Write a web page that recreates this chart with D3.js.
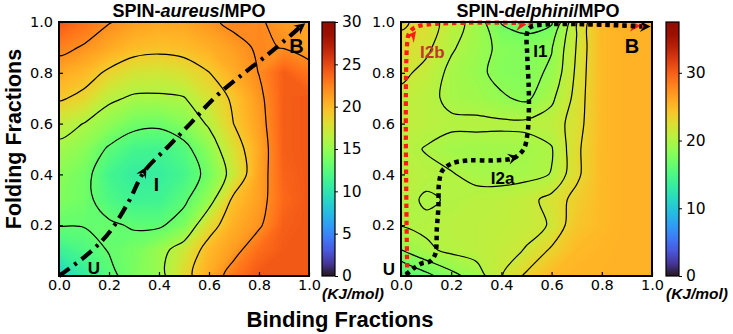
<!DOCTYPE html>
<html>
<head>
<meta charset="utf-8">
<script src="https://cdn.jsdelivr.net/npm/d3@7"></script>
<style>
  body { margin: 0; background: #fff; }
</style>
</head>
<body>
<svg id="chart" width="733" height="334"></svg>
<script>
// Free energy grids, columns = binding fraction 0.0..1.0, rows = folding fraction 1.0 (top) .. 0.0 (bottom)
const aureusRows = [
    [24.3, 23.3, 22.1, 21.3, 20.9, 21.0, 21.6, 22.5, 22.2, 21.4, 20.8],
    [22.6, 21.8, 20.8, 19.9, 19.6, 19.8, 20.5, 21.3, 22.3, 21.9, 21.0],
    [20.8, 20.0, 18.6, 17.5, 17.3, 17.8, 18.95, 20.6, 22.05, 24.0, 23.0],
    [19.3, 18.4, 16.4, 15.7, 15.7, 15.9, 17.6, 19.4, 21.5, 24.0, 24.3],
    [16.8, 15.95, 14.8, 13.6, 13.4, 14.4, 16.3, 19.05, 21.2, 24.0, 24.3],
    [15.5, 14.6, 12.7, 11.6, 11.4, 12.3, 14.7, 17.8, 20.8, 24.0, 24.3],
    [14.6, 13.7, 11.5, 10.6, 10.7, 11.6, 13.7, 17.0, 21.0, 23.8, 24.3],
    [14.2, 13.6, 12.0, 11.2, 11.3, 12.6, 15.0, 19.6, 21.2, 23.6, 24.3],
    [13.1, 13.1, 13.3, 12.8, 12.7, 14.0, 18.0, 20.5, 21.7, 24.0, 24.3],
    [11.0, 12.0, 13.1, 13.8, 15.2, 17.2, 20.0, 21.4, 23.4, 24.2, 24.3],
    [8.5, 10.5, 12.4, 14.0, 15.2, 18.2, 20.6, 23.0, 24.3, 24.3, 24.3]
];
const delphiniRows = [
    [23.3, 22.4, 20.7, 19.4, 16.9, 16.3, 16.8, 21.4, 25.0, 25.5, 25.5],
    [22.4, 21.9, 20.2, 19.2, 18.1, 17.8, 18.4, 21.6, 25.0, 25.5, 25.5],
    [21.9, 21.0, 19.6, 18.9, 18.0, 17.9, 18.8, 21.8, 25.0, 25.5, 25.5],
    [21.0, 20.5, 19.6, 19.3, 18.7, 18.2, 19.7, 22.0, 25.0, 25.5, 25.5],
    [20.8, 20.6, 20.3, 20.35, 20.3, 20.35, 20.7, 22.2, 25.0, 25.5, 25.5],
    [20.5, 19.9, 19.4, 19.3, 19.3, 19.4, 19.9, 22.6, 25.0, 25.5, 25.5],
    [20.6, 20.4, 20.1, 19.6, 19.5, 19.6, 20.05, 22.6, 25.0, 25.5, 25.5],
    [20.5, 19.8, 20.15, 20.5, 20.6, 21.0, 22.0, 23.6, 25.0, 25.5, 25.5],
    [20.05, 20.3, 20.5, 20.6, 20.8, 21.1, 21.6, 24.2, 25.0, 25.5, 25.5],
    [18.4, 19.7, 20.3, 20.6, 21.0, 21.6, 23.3, 25.0, 25.3, 25.5, 25.5],
    [15.0, 16.5, 18.0, 19.2, 21.4, 23.3, 25.0, 25.3, 25.4, 25.5, 25.5]
];

// Contour line levels (kJ/mol)
const aureusLevels = [13, 16, 19, 22];
const delphiniLevels = [17, 18.5, 20, 21.5, 23];

// Colour bar ranges and ticks
const aureusMax = 30;
const delphiniMax = 37.5;
const aureusBarTicks = [0, 5, 10, 15, 20, 25, 30];
const delphiniBarTicks = [0, 10, 20, 30];

// Axis ticks
const xTicks = [0.0, 0.2, 0.4, 0.6, 0.8, 1.0];
const yTicks = [0.2, 0.4, 0.6, 0.8, 1.0];

// Pathways (binding, folding)
const aureusPath = [[0.0, 0.0], [0.12, 0.09], [0.2, 0.17], [0.28, 0.295], [0.34, 0.41], [0.44, 0.513],
    [0.53, 0.605], [0.62, 0.70], [0.72, 0.783], [0.83, 0.868], [0.93, 0.95], [0.975, 0.99]];
const delphiniBlackPath = [[0.02, 0.005], [0.05, 0.03], [0.083, 0.05], [0.116, 0.058], [0.136, 0.085],
    [0.143, 0.19], [0.149, 0.27], [0.152, 0.37], [0.165, 0.415], [0.2, 0.442], [0.265, 0.455],
    [0.37, 0.455], [0.45, 0.465], [0.489, 0.50], [0.503, 0.554], [0.509, 0.633], [0.509, 0.738],
    [0.503, 0.869], [0.503, 0.96], [0.52, 0.982], [0.96, 0.982]];
const delphiniRedPath = [[0.025, 0.0], [0.025, 0.92], [0.035, 0.96], [0.07, 0.984], [0.97, 0.984]];

// Arrow heads: [from, tip]
const aureusArrows = [[[0.31, 0.36], [0.35, 0.43]], [[0.94, 0.96], [0.985, 0.995]]];
const delphiniBlackArrows = [[[0.42, 0.458], [0.47, 0.47]], [[0.95, 0.982], [0.995, 0.982]]];
const delphiniRedArrows = [[[0.025, 0.92], [0.06, 0.965]], [[0.45, 0.986], [0.50, 0.99]], [[0.91, 0.984], [0.955, 0.984]]];

// State labels
const aureusLabels = [["U", 0.14, 0.03, 17, "#000"], ["I", 0.39, 0.36, 19, "#000"], ["B", 0.95, 0.905, 20, "#000"]];
const delphiniLabels = [["U", -0.048, 0.024, 17, "#000"], ["I2b", 0.125, 0.88, 17, "#c0392b"],
    ["I1", 0.555, 0.885, 17, "#000"], ["I2a", 0.405, 0.385, 17, "#000"], ["B", 0.92, 0.905, 20, "#000"]];

const svg = d3.select("#chart");
const n = 11;
const sansBold = "'Liberation Sans', Arial, sans-serif";

const panels = [
    { rows: aureusRows, levels: aureusLevels, vmax: aureusMax, barTicks: aureusBarTicks,
      path: aureusPath, arrows: aureusArrows, labels: aureusLabels, name: "aureus", titleX: 189,
      x0: 59, x1: 309, y0: 22, y1: 276, barX: 322 },
    { rows: delphiniRows, levels: delphiniLevels, vmax: delphiniMax, barTicks: delphiniBarTicks,
      path: null, arrows: delphiniBlackArrows, labels: delphiniLabels, name: "delphini", titleX: 538,
      x0: 401, x1: 652, y0: 22, y1: 276, barX: 666 }
];

const defs = svg.append("defs");

function arrowHead(g, pair, x, y, fill) {
    const [a, b] = pair;
    const ang = Math.atan2(y(b[1]) - y(a[1]), x(b[0]) - x(a[0])) * 180 / Math.PI;
    g.append("path")
        .attr("d", "M0,0 L-11,-5.5 L-7,0 L-11,5.5 Z")
        .attr("transform", "translate(" + x(b[0]) + "," + y(b[1]) + ") rotate(" + ang + ")")
        .attr("fill", fill);
}

panels.forEach(function (p, idx) {
    const x = d3.scaleLinear().domain([0, 1]).range([p.x0, p.x1]);
    const y = d3.scaleLinear().domain([0, 1]).range([p.y1, p.y0]);
    const values = p.rows.slice().reverse().flat();
    const color = v => d3.interpolateTurbo(Math.max(0, Math.min(1, v / p.vmax)));

    defs.append("clipPath").attr("id", "clip" + idx)
        .append("rect").attr("x", p.x0).attr("y", p.y0)
        .attr("width", p.x1 - p.x0).attr("height", p.y1 - p.y0);

    // grid coordinate -> pixel
    const gx = c => x((c - 0.5) / (n - 1));
    const gy = c => y((c - 0.5) / (n - 1));
    const geo = d3.geoPath(d3.geoTransform({
        point: function (px, py) { this.stream.point(gx(px), gy(py)); }
    }));

    const g = svg.append("g").attr("clip-path", "url(#clip" + idx + ")");
    const [lo, hi] = d3.extent(values);
    g.append("rect").attr("x", p.x0).attr("y", p.y0)
        .attr("width", p.x1 - p.x0).attr("height", p.y1 - p.y0).attr("fill", color(lo));

    const steps = d3.range(Math.floor(lo * 10) / 10, hi, 0.1);
    g.selectAll("path.band")
        .data(d3.contours().size([n, n]).thresholds(steps)(values))
        .join("path")
        .attr("class", "band")
        .attr("d", geo)
        .attr("fill", d => color(d.value + 0.05))
        .attr("stroke", d => color(d.value + 0.05))
        .attr("stroke-width", 0.6);

    // contour lines
    const ringLine = d3.line().curve(d3.curveCatmullRomClosed.alpha(0.5));
    d3.contours().size([n, n]).thresholds(p.levels)(values).forEach(function (c) {
        c.coordinates.forEach(function (poly) {
            poly.forEach(function (ring) {
                g.append("path")
                    .attr("d", ringLine(ring.slice(0, -1).map(pt => [gx(pt[0]), gy(pt[1])])))
                    .attr("fill", "none")
                    .attr("stroke", "#000")
                    .attr("stroke-width", 1.2);
            });
        });
    });

    // pathways
    const pathLine = d3.line().x(d => x(d[0])).y(d => y(d[1])).curve(d3.curveCatmullRom.alpha(0.5));
    const pg = svg.append("g");
    if (idx === 0) {
        pg.append("path").attr("d", pathLine(p.path)).attr("fill", "none")
            .attr("stroke", "#000").attr("stroke-width", 4.2)
            .attr("stroke-dasharray", "13,6,3,6");
        p.arrows.forEach(a => arrowHead(pg, a, x, y, "#000"));
    } else {
        pg.append("path").attr("d", pathLine(delphiniRedPath)).attr("fill", "none")
            .attr("stroke", "#ff1a1a").attr("stroke-width", 4.2)
            .attr("stroke-dasharray", "4.5,4");
        delphiniRedArrows.forEach(a => arrowHead(pg, a, x, y, "#ff1a1a"));
        pg.append("path").attr("d", pathLine(delphiniBlackPath)).attr("fill", "none")
            .attr("stroke", "#000").attr("stroke-width", 4.5)
            .attr("stroke-dasharray", "4.5,4");
        p.arrows.forEach(a => arrowHead(pg, a, x, y, "#000"));
    }

    // state labels
    p.labels.forEach(function (l) {
        svg.append("text").attr("x", x(l[1])).attr("y", y(l[2]))
            .attr("text-anchor", "middle").attr("dominant-baseline", "central")
            .attr("font-family", sansBold).attr("font-weight", "bold")
            .attr("font-size", l[3]).attr("fill", l[4]).text(l[0]);
    });

    // frame
    svg.append("rect").attr("x", p.x0).attr("y", p.y0)
        .attr("width", p.x1 - p.x0).attr("height", p.y1 - p.y0)
        .attr("fill", "none").attr("stroke", "#000").attr("stroke-width", 2);

    // axes
    const ax = svg.append("g").attr("transform", "translate(0," + p.y1 + ")")
        .call(d3.axisBottom(x).tickValues(xTicks).tickFormat(d3.format(".1f")).tickSize(-4).tickPadding(4));
    const ay = svg.append("g").attr("transform", "translate(" + p.x0 + ",0)")
        .call(d3.axisLeft(y).tickValues(yTicks).tickFormat(d3.format(".1f")).tickSize(-4).tickPadding(6));
    [ax, ay].forEach(function (a) {
        a.select(".domain").remove();
        a.attr("font-family", "'DejaVu Sans', sans-serif").attr("font-size", 14.5);
        a.selectAll("text").attr("fill", "#000");
        a.selectAll("line").attr("stroke", "#000").attr("stroke-width", 1.2);
    });

    // colour bar
    const grad = defs.append("linearGradient").attr("id", "grad" + idx)
        .attr("x1", 0).attr("y1", 1).attr("x2", 0).attr("y2", 0);
    d3.range(0, 1.0001, 0.05).forEach(t => grad.append("stop")
        .attr("offset", t).attr("stop-color", d3.interpolateTurbo(t)));
    svg.append("rect").attr("x", p.barX).attr("y", p.y0).attr("width", 13).attr("height", p.y1 - p.y0)
        .attr("fill", "url(#grad" + idx + ")").attr("stroke", "#000").attr("stroke-width", 1.2);
    const cScale = d3.scaleLinear().domain([0, p.vmax]).range([p.y1, p.y0]);
    const cb = svg.append("g").attr("transform", "translate(" + (p.barX + 13) + ",0)")
        .call(d3.axisRight(cScale).tickValues(p.barTicks).tickSize(3).tickPadding(4));
    cb.select(".domain").remove();
    cb.attr("font-family", "'DejaVu Sans', sans-serif").attr("font-size", 15.5);
    cb.selectAll("text").attr("fill", "#000");
    cb.selectAll("line").attr("stroke", "#000");

    svg.append("text").attr("x", p.barX).attr("y", 299)
        .attr("font-family", sansBold).attr("font-weight", "bold").attr("font-style", "italic")
        .attr("font-size", 15.5).text("(KJ/mol)");

    // title
    const t = svg.append("text").attr("x", p.titleX).attr("y", 17).attr("text-anchor", "middle")
        .attr("font-family", sansBold).attr("font-weight", "bold").attr("font-size", 18);
    t.append("tspan").text("SPIN-");
    t.append("tspan").attr("font-style", "italic").text(p.name);
    t.append("tspan").text("/MPO");
});

svg.append("text").attr("x", 340).attr("y", 327).attr("text-anchor", "middle")
    .attr("font-family", sansBold).attr("font-weight", "bold").attr("font-size", 22)
    .text("Binding Fractions");
svg.append("text").attr("transform", "translate(21,139) rotate(-90)").attr("text-anchor", "middle")
    .attr("font-family", sansBold).attr("font-weight", "bold").attr("font-size", 21.5)
    .text("Folding Fractions");
</script>
</body>
</html>
